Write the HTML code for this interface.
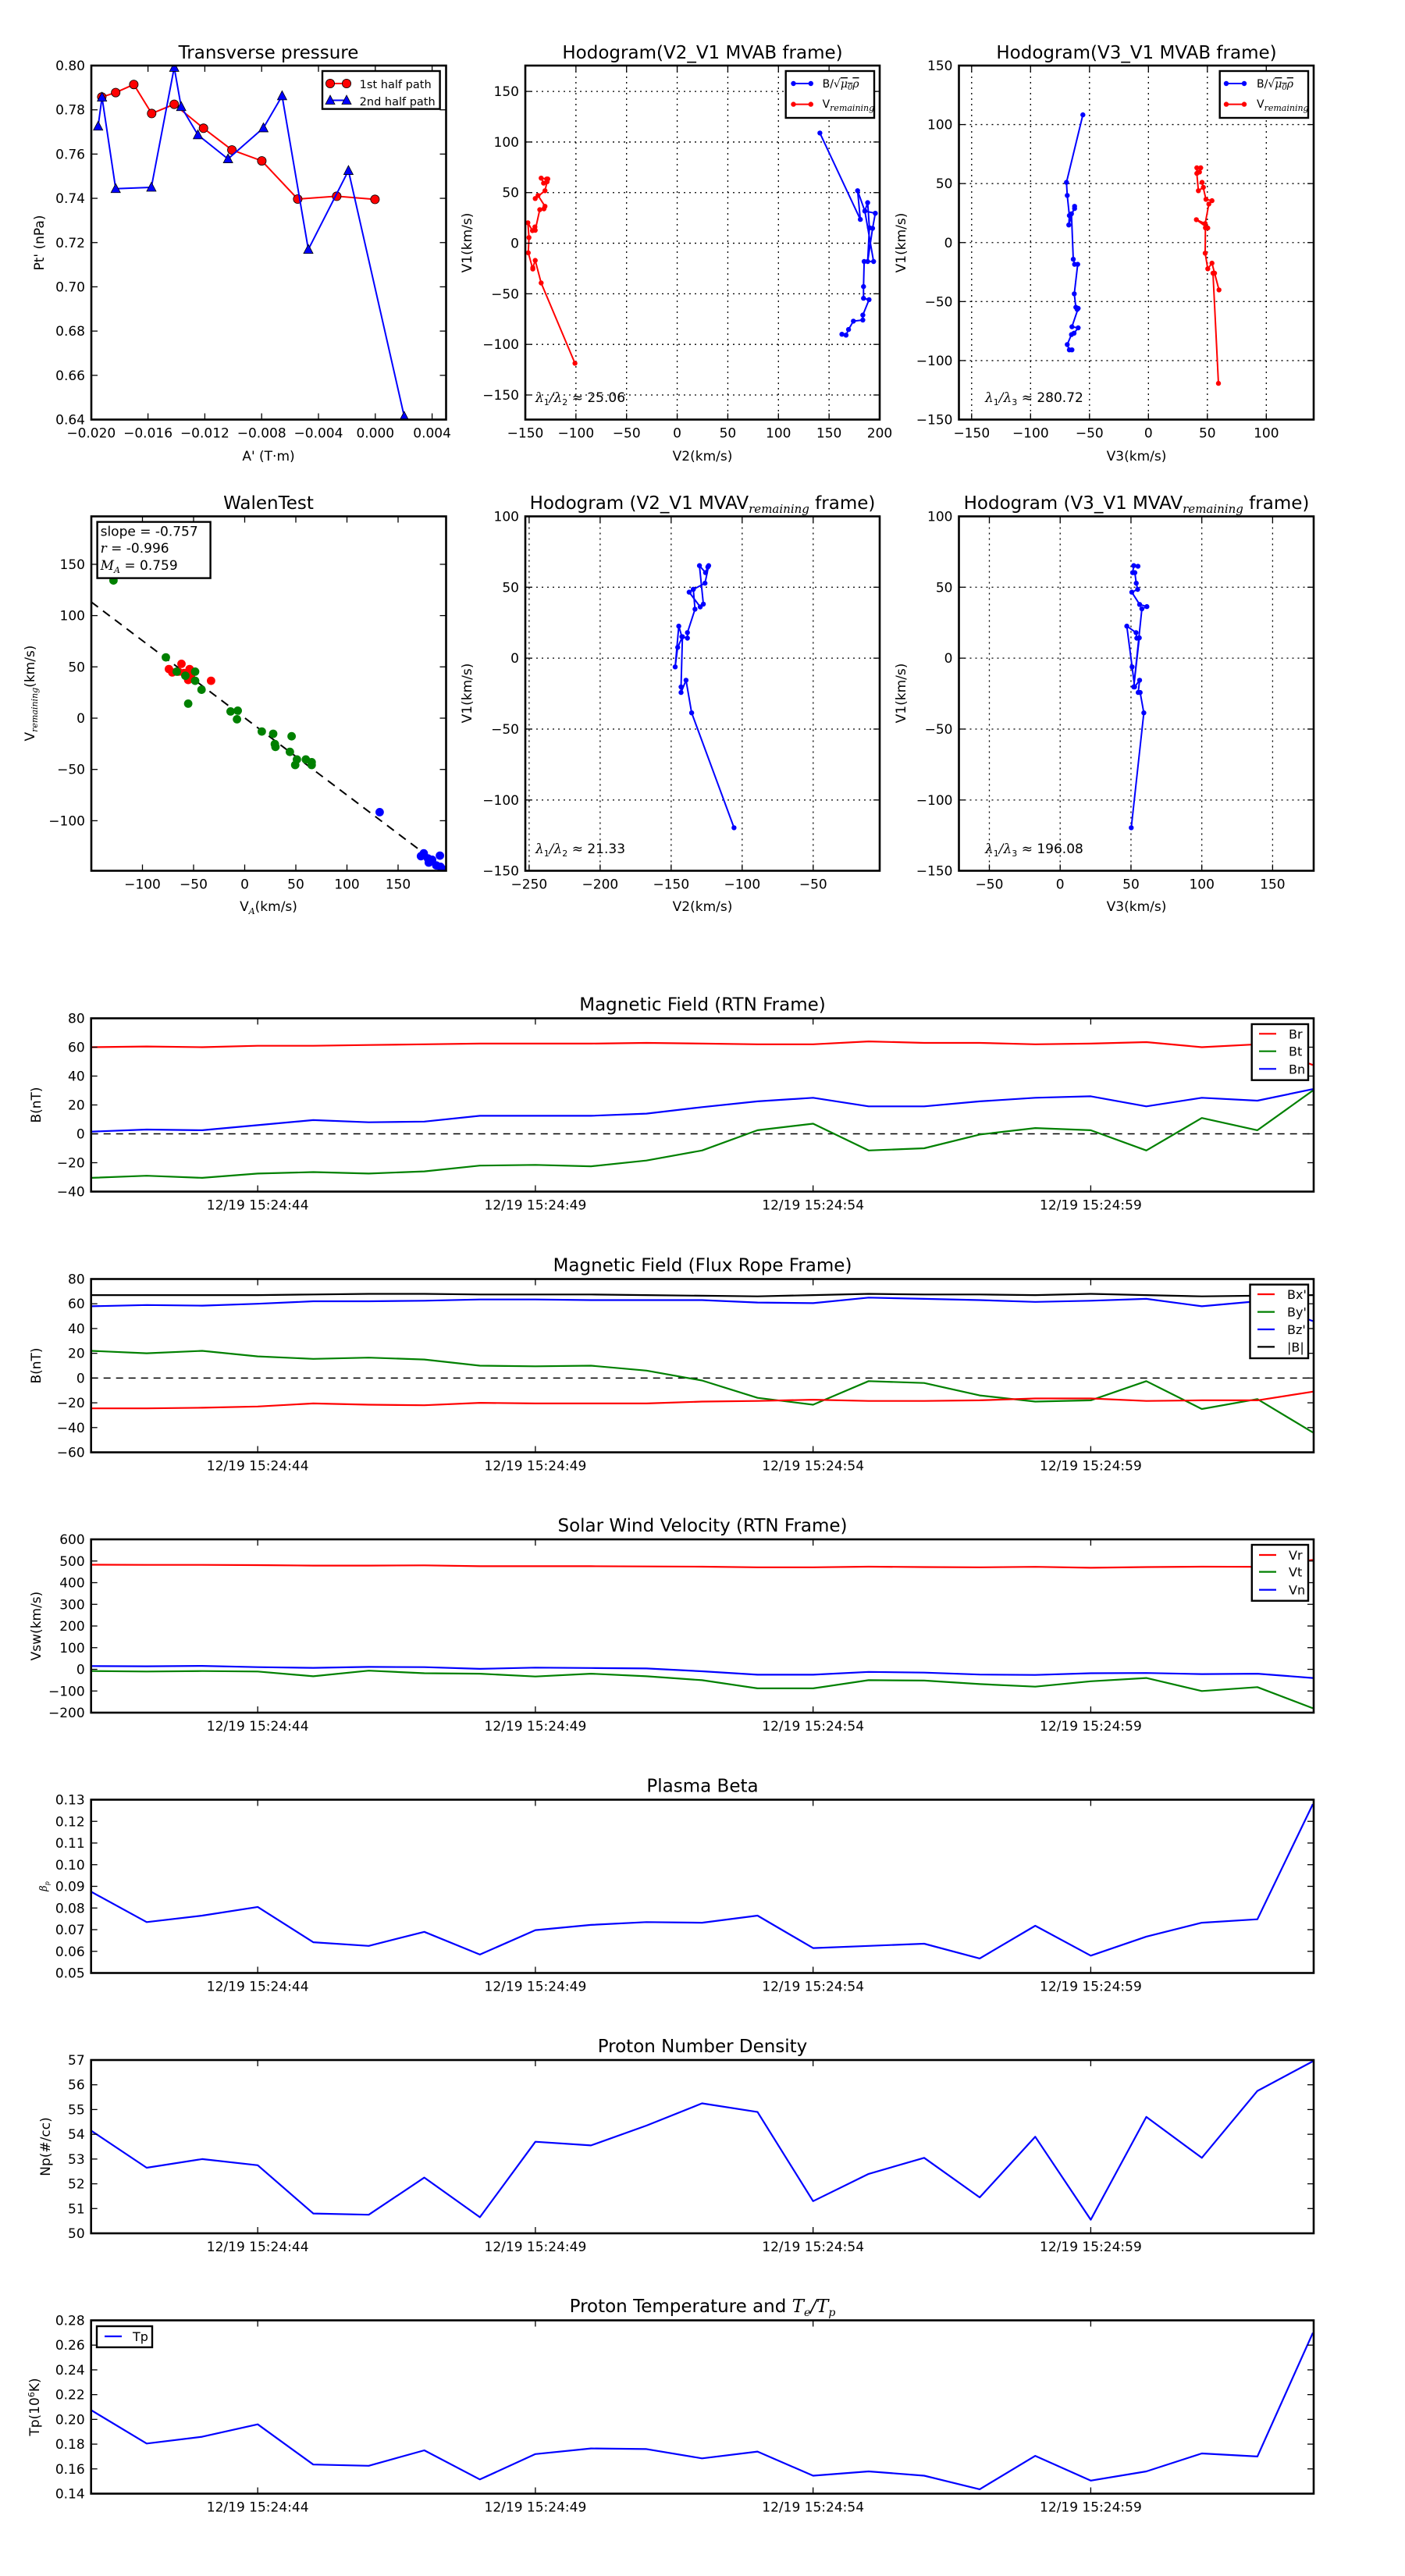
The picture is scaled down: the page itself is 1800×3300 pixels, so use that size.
<!DOCTYPE html>
<html><head><meta charset="utf-8">
<style>
html,body{margin:0;padding:0;background:#fff;}
svg{display:block;font-family:"DejaVu Sans","Liberation Sans",sans-serif;}
</style></head>
<body>
<svg id="c" xmlns="http://www.w3.org/2000/svg" width="1800" height="3300" viewBox="0 0 1800 3300"></svg>
<script>
const S=[];let cid=0;
function mk(v0,p0,v1,p1){return v=>p0+(v-v0)*(p1-p0)/(v1-v0);}
function txt(x,y,s,size,anchor,extra){S.push(`<text x="${x}" y="${y}" font-size="${size}" text-anchor="${anchor||'middle'}" ${extra||''}>${s}</text>`);}
function ln(x1,y1,x2,y2,c,w,extra){S.push(`<line x1="${x1}" y1="${y1}" x2="${x2}" y2="${y2}" stroke="${c}" stroke-width="${w}" ${extra||''}/>`);}
function fmt(v,d){let s=v.toFixed(d);return s.replace('-','\u2212');}
function clip(b){cid++;S.push(`<clipPath id="k${cid}"><rect x="${b.l}" y="${b.t}" width="${b.r-b.l}" height="${b.b-b.t}"/></clipPath>`);return `clip-path="url(#k${cid})"`;}
function grid(b,xt,yt,xf,yf){
 xt.forEach(v=>{const x=xf(v);if(x>b.l+1&&x<b.r-1)ln(x,b.t,x,b.b,'#000',1.3,'stroke-dasharray="2,5"');});
 yt.forEach(v=>{const y=yf(v);if(y>b.t+1&&y<b.b-1)ln(b.l,y,b.r,y,'#000',1.3,'stroke-dasharray="2,5"');});
}
function frame(b,xt,yt,xf,yf,xd,yd){
 S.push(`<rect x="${b.l}" y="${b.t}" width="${b.r-b.l}" height="${b.b-b.t}" fill="none" stroke="#000" stroke-width="2.6"/>`);
 xt.forEach(v=>{const x=xf(v);ln(x,b.b,x,b.b-8,'#000',1.3);ln(x,b.t,x,b.t+8,'#000',1.3);
   txt(x,b.b+23,typeof xd==='function'?xd(v):fmt(v,xd),17);});
 yt.forEach(v=>{const y=yf(v);ln(b.l,y,b.l+8,y,'#000',1.3);ln(b.r,y,b.r-8,y,'#000',1.3);
   txt(b.l-8,y+6,fmt(v,yd),17,'end');});
}
function poly(pts,c,w,cp){S.push(`<polyline points="${pts.map(p=>p[0].toFixed(1)+','+p[1].toFixed(1)).join(' ')}" fill="none" stroke="${c}" stroke-width="${w}" stroke-linejoin="round" ${cp||''}/>`);}
function dots(pts,c,r,cp,stroke){pts.forEach(p=>S.push(`<circle cx="${p[0].toFixed(1)}" cy="${p[1].toFixed(1)}" r="${r}" fill="${c}" ${stroke?'stroke="#000" stroke-width="0.8"':''} ${cp||''}/>`));}
function tris(pts,c,cp){pts.forEach(p=>{const x=p[0],y=p[1];S.push(`<polygon points="${x},${y-6.5} ${x-6},${y+5} ${x+6},${y+5}" fill="${c}" stroke="#000" stroke-width="0.8" ${cp||''}/>`);});}
function Z(ox,oy,sx,sy,a){return a.map(p=>[ox+p[0]/sx,oy+p[1]/sy]);}
function ylab(x,y,s,size){S.push(`<text x="${x}" y="${y}" font-size="${size||17}" text-anchor="middle" transform="rotate(-90 ${x} ${y})">${s}</text>`);}
const SUBR='<tspan font-size="11" dy="4" font-style="italic" font-family="DejaVu Serif">remaining</tspan>';
const BMU='B/√<tspan font-style="italic" font-family="DejaVu Serif" text-decoration="overline">μ<tspan font-size="10" dy="3">0</tspan><tspan dy="-3">ρ</tspan></tspan>';
function lam(x,y,k,val){S.push(`<text x="${x}" y="${y}" font-size="17"><tspan font-family="DejaVu Serif" font-style="italic">λ</tspan><tspan font-size="11" dy="4">1</tspan><tspan dy="-4" font-family="DejaVu Serif" font-style="italic">/λ</tspan><tspan font-size="11" dy="4">${k}</tspan><tspan dy="-4"> ≈ ${val}</tspan></text>`);}
function legbox(x,y,w,h){S.push(`<rect x="${x}" y="${y}" width="${w}" height="${h}" fill="#fff" stroke="#000" stroke-width="2.4"/>`);}
function range(a,b,s){const r=[];for(let v=a;v<=b+1e-9;v+=s)r.push(+v.toFixed(6));return r;}

/* ---------- Panel 1: Transverse pressure ---------- */
{const b={l:117,r:571.5,t:84,b:537.5};const xf=mk(-0.020,116.8,0.004,553.6),yf=mk(0.80,84,0.64,537.5);
 const cp=clip(b);
 const red=Z(50,40,2.8,2.8,[[225,236],[275,220],[340,191],[404,295],[485,262],[590,348],[692,426],[799,465],[928,602],[1068,592],[1205,603]]);
 const blue=Z(50,40,2.8,2.8,[[212,341],[226,237],[275,565],[403,560],[485,130],[510,271],[570,372],[678,458],[805,347],[872,232],[966,783],[1110,500],[1310,1382]]);
 poly(red,'#f00',2,cp);dots(red,'#f00',5.6,cp,true);
 poly(blue,'#00f',2,cp);tris(blue,'#00f',cp);
 frame(b,range(-0.020,0.004,0.004),range(0.64,0.80,0.02),xf,yf,3,2);
 legbox(413,91,150.6,48.6);
 ln(423,107,444,107,'#f00',2);dots([[423,107],[444,107]],'#f00',5.6,'',true);txt(460.7,113,'1st half path',14,'start','textLength="92" lengthAdjust="spacingAndGlyphs"');
 ln(423,128.5,444,128.5,'#00f',2);tris([[423,128.5],[444,128.5]],'#00f');txt(460.7,135,'2nd half path',14,'start','textLength="97" lengthAdjust="spacingAndGlyphs"');
 txt(344,75,'Transverse pressure',23);txt(344,590,"A' (T·m)",17);ylab(56,311,"Pt' (nPa)",17);
}
/* ---------- Panel 2: Hodogram V2_V1 MVAB ---------- */
{const b={l:673,r:1127,t:84,b:537.5};const xf=mk(-150,673,200,1127),yf=mk(150,117.1,-150,506);
 const xt=range(-150,200,50),yt=range(-150,150,50);grid(b,xt,yt,xf,yf);const cp=clip(b);
 const red=Z(550,40,2.24,2.8,[[418,1191],[321,903],[304,822],[297,848],[297,853],[284,795],[286,740],[283,687],[296,715],[303,702],[304,714],[317,640],[329,637],[332,628],[312,589],[304,600],[332,572],[338,540],[337,530],[321,527],[328,545],[340,530]]);
 const blue=Z(550,40,2.24,2.8,[[1121,365],[1237,675],[1229,572],[1250,645],[1258,615],[1263,705],[1258,826],[1272,707],[1280,653],[1250,645],[1275,826],[1248,826],[1246,916],[1246,958],[1262,963],[1244,1018],[1244,1036],[1217,1040],[1203,1070],[1196,1090],[1184,1087]]);
 poly(red,'#f00',2,cp);dots(red,'#f00',3.2,cp);poly(blue,'#00f',2,cp);dots(blue,'#00f',3.2,cp);
 frame(b,xt,yt,xf,yf,0,0);
 legbox(1006.7,91,113.3,60);
 ln(1016.5,107,1038.8,107,'#00f',2);dots([[1016.5,107],[1038.8,107]],'#00f',3.2);txt(1053.6,112,BMU,14,'start');
 ln(1016.5,133.6,1038.8,133.6,'#f00',2);dots([[1016.5,133.6],[1038.8,133.6]],'#f00',3.2);txt(1053.6,138,'V'+SUBR,14,'start');
 lam(686,515,2,'25.06');
 txt(900,75,'Hodogram(V2_V1 MVAB frame)',23);txt(900,590,'V2(km/s)',17);ylab(604,311,'V1(km/s)',17);
}
/* ---------- Panel 3: Hodogram V3_V1 MVAB ---------- */
{const b={l:1228.5,r:1683,t:84,b:537.5};const xf=mk(-100,1320.3,100,1622.3),yf=mk(150,84,-150,537.5);
 const xt=range(-150,100,50),yt=range(-150,150,50);grid(b,xt,yt,xf,yf);const cp=clip(b);
 const blue=Z(1240,40,3,2.8,[[442,300],[379,542],[382,589],[390,661],[388,695],[410,628],[410,636],[398,655],[405,818],[410,836],[422,836],[409,942],[415,990],[420,998],[424,994],[400,1060],[424,1064],[408,1083],[398,1088],[382,1124],[390,1143],[400,1143]]);
 const red=Z(1240,40,3,2.8,[[963,1263],[942,868],[948,868],[965,928],[938,832],[922,852],[912,796],[913,705],[922,706],[878,676],[912,690],[926,620],[938,608],[915,603],[900,542],[905,560],[886,572],[880,510],[880,490],[895,490],[890,505]]);
 poly(red,'#f00',2,cp);dots(red,'#f00',3.2,cp);poly(blue,'#00f',2,cp);dots(blue,'#00f',3.2,cp);
 frame(b,xt,yt,xf,yf,0,0);
 legbox(1562.7,91,113.3,60);
 ln(1571,107,1594,107,'#00f',2);dots([[1571,107],[1594,107]],'#00f',3.2);txt(1610,112,BMU,14,'start');
 ln(1571,133.6,1594,133.6,'#f00',2);dots([[1571,133.6],[1594,133.6]],'#f00',3.2);txt(1610,138,'V'+SUBR,14,'start');
 lam(1262,515,3,'280.72');
 txt(1456,75,'Hodogram(V3_V1 MVAB frame)',23);txt(1456,590,'V3(km/s)',17);ylab(1160,311,'V1(km/s)',17);
}
/* ---------- Panel 4: Walen test ---------- */
{const b={l:117,r:571.5,t:661.5,b:1115.5};const xf=mk(-100,182.5,150,510),yf=mk(150,722.9,-100,1051.4);
 const cp=clip(b);
 const dl=Z(50,630,2.8,2.8,[[187,395],[1445,1345]]);
 ln(dl[0][0],dl[0][1],dl[1][0],dl[1][1],'#000',2,'stroke-dasharray="11,8" '+cp);
 const g=Z(50,630,2.8,2.8,[[267,318],[455,594],[494,645],[525,660],[560,645],[560,678],[583,710],[535,760],[687,788],[713,785],[710,816],[799,860],[840,868],[906,877],[846,905],[848,915],[900,933],[925,960],[919,980],[957,960],[978,970],[978,980]]);
 const r=Z(50,630,2.8,2.8,[[466,636],[478,648],[511,617],[500,645],[540,636],[535,675],[545,660],[617,678],[520,650]]);
 const bl=Z(50,630,2.8,2.8,[[1222,1149],[1370,1307],[1380,1297],[1398,1330],[1410,1320],[1425,1340],[1438,1305],[1440,1345],[1450,1355],[1395,1315]]);
 dots(r,'#f00',5.4,cp);dots(g,'#008000',5.4,cp);dots(bl,'#00f',5.4,cp);
 frame(b,range(-100,150,50),range(-100,150,50),xf,yf,0,0);
 legbox(124.6,668.6,145,72);
 txt(128.6,686.5,'slope = -0.757',17,'start');
 txt(128.6,708,'<tspan font-family="DejaVu Serif" font-style="italic">r</tspan> = -0.996',17,'start');
 txt(128.6,730,'<tspan font-family="DejaVu Serif" font-style="italic">M</tspan><tspan font-family="DejaVu Serif" font-style="italic" font-size="11" dy="4">A</tspan><tspan dy="-4"> = 0.759</tspan>',17,'start');
 txt(344,652,'WalenTest',23);
 txt(344,1167,'V<tspan font-size="11" dy="4" font-style="italic" font-family="DejaVu Serif">A</tspan><tspan dy="-4">(km/s)</tspan>',17);
 S.push(`<text x="44" y="888" font-size="17" text-anchor="middle" transform="rotate(-90 44 888)">V<tspan font-size="11" dy="4" font-style="italic" font-family="DejaVu Serif">remaining</tspan><tspan dy="-4">(km/s)</tspan></text>`);
}
/* ---------- Panel 5/6: Hodogram MVAV ---------- */
{const b={l:673,r:1127,t:661.5,b:1115.5};const xf=mk(-250,677.9,-50,1041.8),yf=mk(100,661.4,-150,1115.7);
 const xt=range(-250,-50,50),yt=range(-150,100,50);grid(b,xt,yt,xf,yf);const cp=clip(b);
 const p=Z(670,630,2.8,2.8,[[757,1205],[605,793],[585,676],[567,720],[567,700],[572,520],[555,558],[546,628],[559,482],[570,520],[590,525],[590,505],[617,421],[611,350],[596,360],[636,413],[647,403],[633,265],[655,290],[663,270],[666,265],[653,328],[611,350]]);
 poly(p,'#00f',2,cp);dots(p,'#00f',3.2,cp);
 frame(b,xt,yt,xf,yf,0,0);lam(686,1093,2,'21.33');
 S.push(`<text x="900" y="652" font-size="23" text-anchor="middle">Hodogram (V2_V1 MVAV<tspan font-size="15" dy="5" font-style="italic" font-family="DejaVu Serif">remaining</tspan><tspan dy="-5"> frame)</tspan></text>`);
 txt(900,1167,'V2(km/s)',17);ylab(604,888,'V1(km/s)',17);
}
{const b={l:1228.5,r:1683,t:661.5,b:1115.5};const xf=mk(-50,1267.5,150,1630.4),yf=mk(100,661.4,-150,1115.7);
 const xt=range(-50,150,50),yt=range(-150,100,50);grid(b,xt,yt,xf,yf);const cp=clip(b);
 const p=Z(1225,630,2.8,2.8,[[628,1205],[673,793],[660,720],[653,720],[658,676],[640,700],[631,628],[612,482],[645,505],[648,525],[657,524],[637,700],[666,420],[684,412],[658,404],[630,360],[651,350],[646,328],[641,290],[633,290],[637,265],[652,267]]);
 poly(p,'#00f',2,cp);dots(p,'#00f',3.2,cp);
 frame(b,xt,yt,xf,yf,0,0);lam(1262,1093,3,'196.08');
 S.push(`<text x="1456" y="652" font-size="23" text-anchor="middle">Hodogram (V3_V1 MVAV<tspan font-size="15" dy="5" font-style="italic" font-family="DejaVu Serif">remaining</tspan><tspan dy="-5"> frame)</tspan></text>`);
 txt(1456,1167,'V3(km/s)',17);ylab(1160,888,'V1(km/s)',17);
}
/* ---------- Time series ---------- */
const X0=116.7,DX=71.15;const tx=i=>X0+DX*i;
const TL={3:'12/19 15:24:44',8:'12/19 15:24:49',13:'12/19 15:24:54',18:'12/19 15:24:59'};
function ts(top,ymax,ymin,step,dec,series,title,ylabel,zero,leg,yl){
 const b={l:116.7,r:1683,t:top,b:top+222};const yf=mk(ymax,b.t,ymin,b.b),xf=i=>tx(i);
 const cp=clip(b);
 if(zero)ln(b.l,yf(0),b.r,yf(0),'#000',1.5,'stroke-dasharray="9,7"');
 series.forEach(s=>poly(s.d.map((v,i)=>[tx(i),yf(v)]),s.c,2.2,cp));
 frame(b,[3,8,13,18],range(ymin,ymax,step),xf,yf,i=>TL[i],dec);
 txt(900,top-10,title,23);
 S.push(`<text x="${yl||52}" y="${top+111}" font-size="${ylabel.sz||17}" text-anchor="middle" transform="rotate(-90 ${yl||52} ${top+111})">${ylabel.t}</text>`);
 if(leg){legbox(leg.x,leg.y,leg.w,leg.h);leg.items.forEach(it=>{ln(leg.lx,it.y,leg.lx+22,it.y,it.c,2.2);txt(leg.tx,it.y+6,it.l,16,'start');});}
}
ts(1304.5,80,-40,20,0,[
 {c:'#f00',d:[60,60.5,60,61,61,61.5,62,62.5,62.5,62.5,63,62.5,62,62,64,63,63,62,62.5,63.5,60,62,47.7]},
 {c:'#008000',d:[-30.5,-29,-30.5,-27.5,-26.5,-27.5,-26,-22,-21.5,-22.5,-18.5,-11.5,2.5,7,-11.5,-10,-0.5,4,2.5,-11.5,11,2.5,30]},
 {c:'#00f',d:[1.5,3,2.5,6,9.5,8,8.5,12.5,12.5,12.5,14,18.5,22.5,25,19,19,22.5,25,26,19,25,23,31]}],
 'Magnetic Field (RTN Frame)',{t:'B(nT)'},true,
 {x:1603.7,y:1312,w:72.3,h:71.7,lx:1613,tx:1651,items:[{y:1324.3,c:'#f00',l:'Br'},{y:1346.7,c:'#008000',l:'Bt'},{y:1369.3,c:'#00f',l:'Bn'}]});
ts(1638.5,80,-60,20,0,[
 {c:'#000',d:[67,67,67,67,67.5,68,68,67.5,67.5,67.5,67,66.5,66,67,68,67.5,67.5,67,68,67,66,66.5,67]},
 {c:'#00f',d:[58,59,58.5,60,62,62,62.5,63.5,63.5,63,63,63,61,60.5,65,64,63,61.5,62.5,64,58,62,46]},
 {c:'#008000',d:[22,20,22,17.5,15.5,16.5,15,10,9.5,10,6,-2,-16,-21.5,-2.5,-4,-14,-19,-18,-2.5,-25,-17,-44]},
 {c:'#f00',d:[-24.5,-24.5,-24,-23,-20.5,-21.5,-22,-20,-20.5,-20.5,-20.5,-19,-18.5,-17.5,-18.5,-18.5,-18,-16.5,-16.5,-18.5,-18,-18,-11]}],
 'Magnetic Field (Flux Rope Frame)',{t:'B(nT)'},true,
 {x:1601.5,y:1645.6,w:74.5,h:94.4,lx:1611,tx:1649,items:[{y:1658,c:'#f00',l:"Bx'"},{y:1680.6,c:'#008000',l:"By'"},{y:1703,c:'#00f',l:"Bz'"},{y:1725.4,c:'#000',l:'|B|'}]});
ts(1972,600,-200,100,0,[
 {c:'#f00',d:[483,482,482,481,479,479,480,476,476,476,475,474,471,471,474,472,471,473,469,472,474,473,505]},
 {c:'#008000',d:[-8,-10,-8,-10,-32,-6,-18,-20,-33,-20,-32,-50,-88,-88,-50,-52,-68,-80,-55,-40,-100,-82,-180]},
 {c:'#00f',d:[15,14,16,10,7,11,10,2,8,6,4,-9,-25,-25,-12,-15,-24,-26,-18,-17,-22,-20,-40]}],
 'Solar Wind Velocity (RTN Frame)',{t:'Vsw(km/s)'},false,
 {x:1603.8,y:1979,w:72.2,h:71.7,lx:1613,tx:1651,items:[{y:1992,c:'#f00',l:'Vr'},{y:2013.6,c:'#008000',l:'Vt'},{y:2036.6,c:'#00f',l:'Vn'}]});
ts(2305.5,0.13,0.05,0.01,2,[
 {c:'#00f',d:[0.0875,0.0735,0.0765,0.0805,0.0642,0.0625,0.069,0.0585,0.0698,0.0722,0.0735,0.0732,0.0765,0.0615,0.0625,0.0635,0.0567,0.0718,0.058,0.0668,0.0732,0.0748,0.128]}],
 'Plasma Beta',{t:'<tspan font-family="DejaVu Serif" font-style="italic">β</tspan><tspan font-size="8" dy="3" font-family="DejaVu Serif" font-style="italic">p</tspan>',sz:13},false,null,60);
ts(2639,57,50,1,0,[
 {c:'#00f',d:[54.15,52.65,53.0,52.75,50.8,50.75,52.25,50.65,53.7,53.55,54.35,55.25,54.9,51.3,52.4,53.05,51.45,53.9,50.55,54.7,53.05,55.75,56.95]}],
 'Proton Number Density',{t:'Np(#/cc)'},false,null,64);
ts(2972.5,0.28,0.14,0.02,2,[
 {c:'#00f',d:[0.2075,0.1805,0.186,0.196,0.1635,0.1625,0.175,0.1515,0.172,0.1765,0.176,0.1685,0.174,0.1545,0.158,0.1545,0.1435,0.1705,0.1505,0.158,0.1725,0.170,0.270]}],
 '',{t:'Tp(10<tspan font-size="11" dy="-6">6</tspan><tspan dy="6">K)</tspan>'},false,
 {x:124,y:2980,w:71,h:27,lx:134,tx:170,items:[{y:2993,c:'#00f',l:'Tp'}]},50);
S.push(`<text x="900" y="2962" font-size="23" text-anchor="middle">Proton Temperature and <tspan font-family="DejaVu Serif" font-style="italic">T</tspan><tspan font-family="DejaVu Serif" font-style="italic" font-size="14" dy="5">e</tspan><tspan font-family="DejaVu Serif" font-style="italic" dy="-5">/T</tspan><tspan font-family="DejaVu Serif" font-style="italic" font-size="14" dy="5">p</tspan></text>`);
document.getElementById('c').innerHTML=S.join('');
</script>
</body></html>
